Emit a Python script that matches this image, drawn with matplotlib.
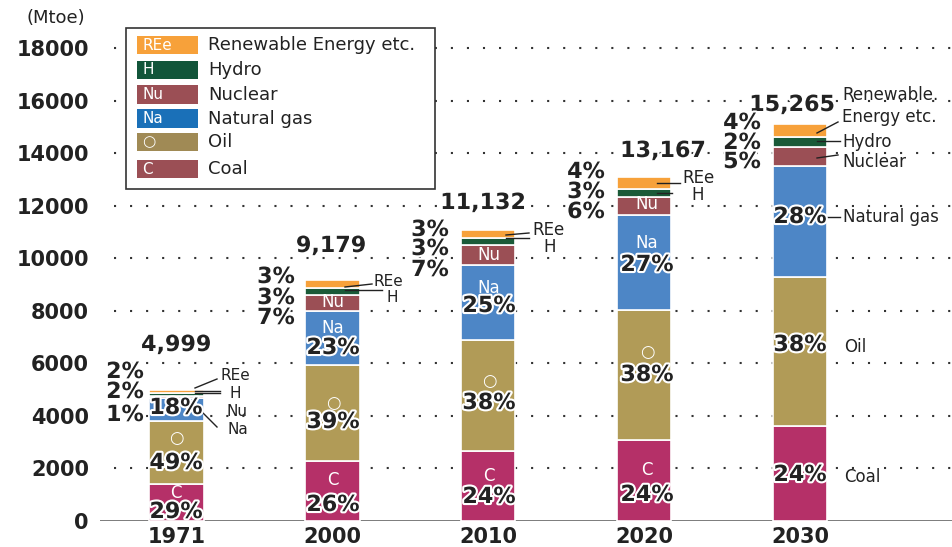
import matplotlib
matplotlib.use("Agg")
import matplotlib.pyplot as plt
import matplotlib.patheffects as pe
from matplotlib.lines import Line2D
from matplotlib.patches import Rectangle
import numpy as np

# Data (Mtoe)
years = ["1971", "2000", "2010", "2020", "2030"]
totals = ["4,999", "9,179", "11,132", "13,167", "15,265"]
coal = [1400, 2300, 2650, 3080, 3615]
oil = [2420, 3650, 4250, 4950, 5670]
gas = [880, 2050, 2840, 3610, 4220]
nuclear = [60, 620, 760, 690, 720]
hydro = [110, 270, 290, 330, 380]
renew = [110, 270, 290, 430, 530]

pct_coal = [29, 26, 24, 24, 24]
pct_oil = [49, 39, 38, 38, 38]
pct_gas = [18, 23, 25, 27, 28]
pct_nuc = [1, 7, 7, 6, 5]
pct_hydro = [2, 3, 3, 3, 2]
pct_renew = [2, 3, 3, 4, 4]

W, H = 952, 547
fig = plt.figure(figsize=(9.52, 5.47), dpi=100)
ax = fig.add_axes([100 / W, (H - 521) / H, 852 / W, 499 / H])

x = np.arange(len(years))
series = [coal, oil, gas, nuclear, hydro, renew]
colors = ["#b53068", "#b19b57", "#4d86c6", "#9b4f55", "#1a5a38", "#f7a13a"]
bottom = np.zeros(len(years))
for vals, col in zip(series, colors):
    ax.bar(x, vals, width=0.35, bottom=bottom, color=col, edgecolor="white", linewidth=1.2, zorder=3)
    bottom += np.array(vals)

ax.set_xlim(-0.49, 4.975)
ax.set_ylim(0, 19000)
yt = np.arange(0, 18001, 2000)
ax.set_yticks(yt)
ax.set_yticklabels([str(v) for v in yt], fontsize=15, fontweight="bold", color="#222222")
ax.set_xticks(x)
ax.set_xticklabels(years, fontsize=15, fontweight="bold", color="#222222")
ax.tick_params(length=0, axis="y", pad=8)
ax.tick_params(length=0, axis="x", pad=4)
for s in ax.spines.values():
    s.set_visible(False)

# dotted grid and base line
ax.hlines(yt[1:], -0.4, 4.975, colors="#333333", linestyles=(0, (1, 6.7)), linewidth=1.5, zorder=1)
ax.axhline(0, color="#555555", linewidth=1.8, zorder=2)


def fx(px):
    return px / W


def fy(py):
    return 1 - py / H


def txt(px, py, s, size=12, bold=False, color="#222222", ha="center", halo=False):
    t = fig.text(fx(px), fy(py), s, fontsize=size, fontweight="bold" if bold else "normal",
                 color=color, ha=ha, va="center", zorder=10)
    if halo:
        t.set_path_effects([pe.withStroke(linewidth=3, foreground="white")])
    return t


def line(pts):
    xs = [fx(p[0]) for p in pts]
    ys = [fy(p[1]) for p in pts]
    fig.add_artist(Line2D(xs, ys, transform=fig.transFigure, color="#222222", linewidth=1, zorder=9))


fig.text(fx(26), fy(18), "(Mtoe)", fontsize=13, color="#222222", va="center")

# legend box
fig.add_artist(Rectangle((fx(126), fy(189)), (435 - 126) / W, (189 - 28) / H, transform=fig.transFigure,
                         facecolor="white", edgecolor="#333333", linewidth=1.2, zorder=8))
leg = [("REe", "Renewable Energy etc.", "#f7a13a", 45),
       ("H", "Hydro", "#12553a", 70),
       ("Nu", "Nuclear", "#9b4f55", 94.5),
       ("Na", "Natural gas", "#1a70b8", 118.5),
       ("○", "Oil", "#a08a55", 142),
       ("C", "Coal", "#9b4f55", 169)]
for abbr, name, col, cy in leg:
    fig.add_artist(Rectangle((fx(137), fy(cy + 9)), 61 / W, 18 / H, transform=fig.transFigure,
                             facecolor=col, edgecolor="none", zorder=9))
    txt(142, cy, abbr, size=11, color="white", ha="left")
    txt(208, cy, name, size=13, ha="left")

# totals
for px, py, s in [(176, 345, totals[0]), (331, 246, totals[1]), (483, 203, totals[2]),
                  (663, 151, totals[3]), (792, 105, totals[4])]:
    txt(px, py, s, size=16, bold=True, halo=True)

# in-bar letters
for px, py, s in [(176, 493, "C"), (176, 438, "○"),
                  (333, 480, "C"), (333, 403, "○"), (333, 328, "Na"), (333, 302, "Nu"),
                  (489, 476, "C"), (489, 381, "○"), (489, 288, "Na"), (489, 255, "Nu"),
                  (647, 470, "C"), (647, 352, "○"), (647, 243, "Na"), (647, 204, "Nu")]:
    txt(px, py, s, size=12, color="white")

# percent labels inside bars
centers = [176, 333, 489, 647, 800]
coal_y = [512, 505, 497, 495, 475]
oil_y = [463, 422, 403, 375, 345]
gas_y = [408, 348, 306, 265, 217]
for i, c in enumerate(centers):
    txt(c, coal_y[i], f"{pct_coal[i]}%", size=16, bold=True, halo=True)
    txt(c, oil_y[i], f"{pct_oil[i]}%", size=16, bold=True, halo=True)
    txt(c, gas_y[i], f"{pct_gas[i]}%", size=16, bold=True, halo=True)

# small-share labels on the left of each bar
left_x = [125, 276, 430, 586, 742]
left_y = [(372, 392, 415), (277, 298, 318), (230, 249, 270), (172, 192, 212), (123, 143, 162)]
for i in range(5):
    ry, hy, ny = left_y[i]
    txt(left_x[i], ry, f"{pct_renew[i]}%", size=16, bold=True, halo=True)
    txt(left_x[i], hy, f"{pct_hydro[i]}%", size=16, bold=True, halo=True)
    txt(left_x[i], ny, f"{pct_nuc[i]}%", size=16, bold=True, halo=True)

# callouts 1971
txt(235, 376, "REe", size=11)
txt(235, 394, "H", size=11)
txt(237, 411, "Nu", size=11)
txt(238, 429, "Na", size=11)
line([(195, 388), (217, 379)])
line([(195, 390.5), (220, 390.5)])
line([(195, 393), (220, 393)])
line([(200, 410), (217, 427)])

# callouts 2000
txt(388, 281, "REe", size=11)
txt(392, 298, "H", size=11)
line([(345, 287), (372, 284)])
line([(345, 290), (382, 290)])

# callouts 2010
txt(548, 230, "REe", size=12)
txt(550, 247, "H", size=12)
line([(506, 235), (529, 233)])
line([(506, 238), (529, 238)])

# callouts 2020
txt(699, 178, "REe", size=12)
txt(698, 195, "H", size=12)
line([(657, 183), (680, 183)])
line([(657, 192.5), (672, 192.5)])

# callouts 2030
txt(842, 95, "Renewable.", size=12, ha="left")
txt(842, 117, "Energy etc.", size=12, ha="left")
txt(842, 142, "Hydro", size=12, ha="left")
txt(842, 162, "Nuclear", size=12, ha="left")
txt(843, 217, "Natural gas", size=12, ha="left")
txt(844, 347, "Oil", size=12, ha="left")
txt(844, 477, "Coal", size=12, ha="left")
line([(817, 133), (838, 122)])
line([(817, 141), (840, 141)])
line([(817, 158), (838, 155)])
line([(823, 217), (840, 217)])

fig.savefig("out.png", dpi=100)
